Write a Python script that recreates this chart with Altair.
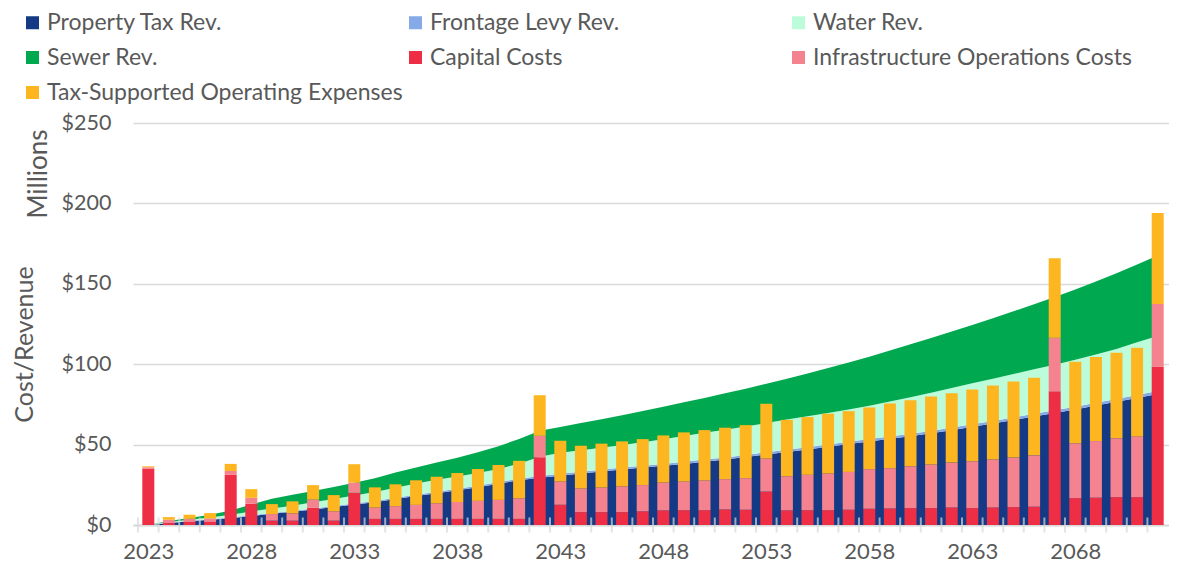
import altair as alt
import pandas as pd

years = list(range(2023, 2073))
label_years = years[::5]

property_tax = [0.0, 1.2, 2.3, 3.2, 4.2, 5.6, 7.0, 8.2, 9.7, 11.2,
                12.7, 14.2, 16.1, 18.0, 19.8, 21.6, 23.5, 25.7, 27.8, 29.4,
                30.7, 32.0, 33.2, 34.5, 35.7, 36.8, 38.0, 39.4, 40.7, 42.3,
                43.8, 45.4, 47.0, 48.7, 50.3, 52.0, 53.6, 55.2, 57.0, 59.0,
                61.1, 63.1, 65.3, 67.5, 69.6, 71.9, 74.3, 76.6, 79.0, 81.5]
frontage_levy = [0.0, 0.2, 0.3, 0.3, 0.4, 0.4, 0.5, 0.5, 0.6, 0.6,
                 0.7, 0.7, 0.8, 0.8, 0.9, 0.9, 0.9, 1.0, 1.0, 1.0,
                 1.1, 1.1, 1.2, 1.2, 1.2, 1.2, 1.3, 1.3, 1.3, 1.3,
                 1.4, 1.4, 1.4, 1.4, 1.5, 1.5, 1.5, 1.5, 1.5, 1.6,
                 1.6, 1.6, 1.6, 1.7, 1.7, 1.7, 1.7, 1.7, 1.8, 1.8]
water = [0.0, 0.4, 0.7, 1.1, 1.8, 2.4, 2.8, 3.3, 3.8, 4.4,
         4.9, 5.6, 6.2, 7.0, 7.4, 7.7, 8.0, 8.2, 9.3, 12.0,
         13.1, 13.4, 13.6, 14.0, 14.6, 15.4, 16.0, 16.7, 17.2, 17.7,
         18.2, 18.8, 19.2, 19.6, 20.0, 20.6, 21.7, 22.7, 23.7, 24.6,
         25.4, 26.3, 27.0, 27.6, 28.3, 29.1, 30.1, 31.2, 32.8, 34.2]
sewer = [0.0, 0.7, 1.0, 1.7, 2.6, 4.4, 6.0, 6.8, 7.0, 7.5,
         7.9, 8.5, 9.5, 10.0, 10.7, 11.7, 12.9, 14.1, 15.4, 16.2,
         16.1, 16.9, 17.8, 18.6, 19.4, 20.2, 21.0, 21.6, 22.7, 23.5,
         24.5, 25.4, 26.6, 27.9, 29.3, 30.6, 31.7, 33.0, 34.1, 35.1,
         36.3, 37.6, 39.0, 40.5, 42.2, 43.8, 45.3, 47.1, 48.4, 50.1]

capital = [34.9, 1.2, 1.9, 1.9, 31.2, 13.2, 2.7, 2.7, 10.7, 2.7,
           20.0, 3.8, 3.8, 3.8, 3.8, 3.8, 3.8, 3.8, 3.8, 42.1,
           12.6, 8.0, 8.0, 8.0, 8.5, 9.1, 9.2, 9.2, 9.7, 9.5,
           20.8, 9.1, 9.2, 9.2, 9.5, 10.1, 10.3, 10.5, 10.5, 10.9,
           10.5, 10.9, 11.1, 11.4, 83.2, 16.7, 17.0, 17.3, 17.3, 98.5]
infra_ops = [1.0, 2.1, 2.0, 2.2, 2.4, 3.7, 4.1, 4.5, 5.2, 5.8,
             6.4, 7.0, 7.9, 8.7, 9.7, 10.5, 11.2, 11.8, 12.8, 13.4,
             14.4, 14.7, 15.3, 16.0, 16.3, 17.3, 17.8, 18.5, 18.8, 19.6,
             20.5, 21.2, 22.0, 22.8, 23.5, 24.6, 25.0, 26.0, 27.1, 27.9,
             29.1, 29.8, 30.8, 31.9, 33.2, 34.1, 35.2, 36.6, 37.8, 39.0]
tax_op = [0.6, 1.6, 2.5, 3.3, 4.4, 5.4, 6.2, 7.5, 8.9, 10.1,
          11.4, 12.6, 13.6, 15.3, 16.5, 18.0, 19.8, 21.7, 23.3, 25.2,
          25.4, 26.6, 27.3, 28.0, 28.6, 29.3, 30.6, 31.3, 32.0, 33.0,
          34.1, 35.1, 35.9, 37.2, 37.8, 38.4, 40.2, 41.1, 42.3, 43.1,
          44.6, 46.0, 47.3, 48.3, 49.5, 50.7, 52.2, 53.2, 55.1, 56.5]

series_names = ["Property Tax Rev.", "Frontage Levy Rev.", "Water Rev.", "Sewer Rev.",
                "Capital Costs", "Infrastructure Operations Costs",
                "Tax-Supported Operating Expenses"]
series_colors = ["#153A85", "#86A9E8", "#BCFCDB", "#00A94F",
                 "#EE2E45", "#F4838F", "#FDB61F"]
title_text = "(50-Year View) Average Forecast Scenario)"

rev_rows = []
for o, (name, vals) in enumerate(zip(series_names[:4],
                                     [property_tax, frontage_levy, water, sewer])):
    for y, v in zip(years, vals):
        rev_rows.append({"year": y, "series": name, "value": v, "o": o})
rev_df = pd.DataFrame(rev_rows)

cost_rows = []
for o, (name, vals) in enumerate(zip(series_names[4:], [capital, infra_ops, tax_op])):
    for y, v in zip(years, vals):
        cost_rows.append({"year": y, "series": name, "value": v, "o": o})
cost_df = pd.DataFrame(cost_rows)

tick_df = pd.DataFrame({"year": years})

FONT = "Lato"
GREY = "#595959"
LINE = "#d9d9d9"

xscale = alt.Scale(domain=[2022.5, 2072.5], nice=False, zero=False)
yscale = alt.Scale(domain=[0, 250], nice=False)

xaxis = alt.Axis(values=label_years, ticks=False, grid=False, format="d",
                 labelOverlap=False, labelFlush=False, domainColor=LINE, domainWidth=2,
                 labelFontSize=22, labelColor=GREY, labelFont=FONT, labelPadding=16,
                 title=None)
yaxis = alt.Axis(values=[0, 50, 100, 150, 200, 250], labelExpr="'$' + datum.value",
                 ticks=False, domain=False, gridColor=LINE, gridWidth=1.5,
                 labelFontSize=21.5, labelColor=GREY, labelFont=FONT, labelPadding=22,
                 title="Cost/Revenue", titleFontSize=25, titleFontWeight="normal",
                 titleColor=GREY, titleFont=FONT, titleAngle=270, titleX=-109,
                 titleY=221, titleAlign="center", titleBaseline="middle")

color = alt.Color("series:N",
                  scale=alt.Scale(domain=series_names, range=series_colors),
                  legend=alt.Legend(orient="none", legendX=-112, legendY=-112,
                                    columns=3, direction="horizontal", title=None,
                                    symbolType="square", symbolSize=169,
                                    symbolStrokeWidth=0, symbolOpacity=1,
                                    labelFontSize=23, labelFont=FONT, labelColor=GREY,
                                    rowPadding=11, columnPadding=1, gridAlign="all",
                                    labelLimit=600, labelOffset=3, padding=0))

area = alt.Chart(rev_df).mark_area(interpolate="linear", opacity=1).encode(
    x=alt.X("year:Q", scale=xscale, axis=xaxis),
    y=alt.Y("value:Q", stack="zero", scale=yscale, axis=yaxis),
    color=color,
    order=alt.Order("o:Q"),
)

bars = alt.Chart(cost_df).mark_bar(size=12).encode(
    x=alt.X("year:Q", scale=xscale),
    y=alt.Y("value:Q", stack="zero", scale=yscale),
    color=alt.Color("series:N"),
    order=alt.Order("o:Q"),
)

ticks = alt.Chart(tick_df).transform_calculate(t="datum.year - 0.5").mark_tick(
    orient="vertical", size=15, thickness=2, color=LINE).encode(
    x=alt.X("t:Q", scale=xscale),
    y=alt.datum(0),
)

millions = alt.Chart(pd.DataFrame({"t": ["Millions"]})).mark_text(
    angle=270, fontSize=26, font=FONT, color=GREY, align="center", baseline="middle"
).encode(x=alt.value(-94), y=alt.value(51), text="t:N")

title = alt.Chart(pd.DataFrame({"t": [title_text]})).mark_text(
    fontSize=23, font=FONT, fontWeight="bold", color="#1F3C88",
    align="left", baseline="alphabetic"
).encode(x=alt.value(-127), y=alt.value(-121), text="t:N")

chart = alt.layer(area, bars, ticks, millions, title).properties(
    width=1040, height=402,
    padding={"left": 125, "top": 115, "right": -4, "bottom": 39},
    autosize=alt.AutoSizeParams(type="none"),
).configure_view(stroke=None)

chart.save("out.html", embed_options={"renderer": "svg", "actions": False})
